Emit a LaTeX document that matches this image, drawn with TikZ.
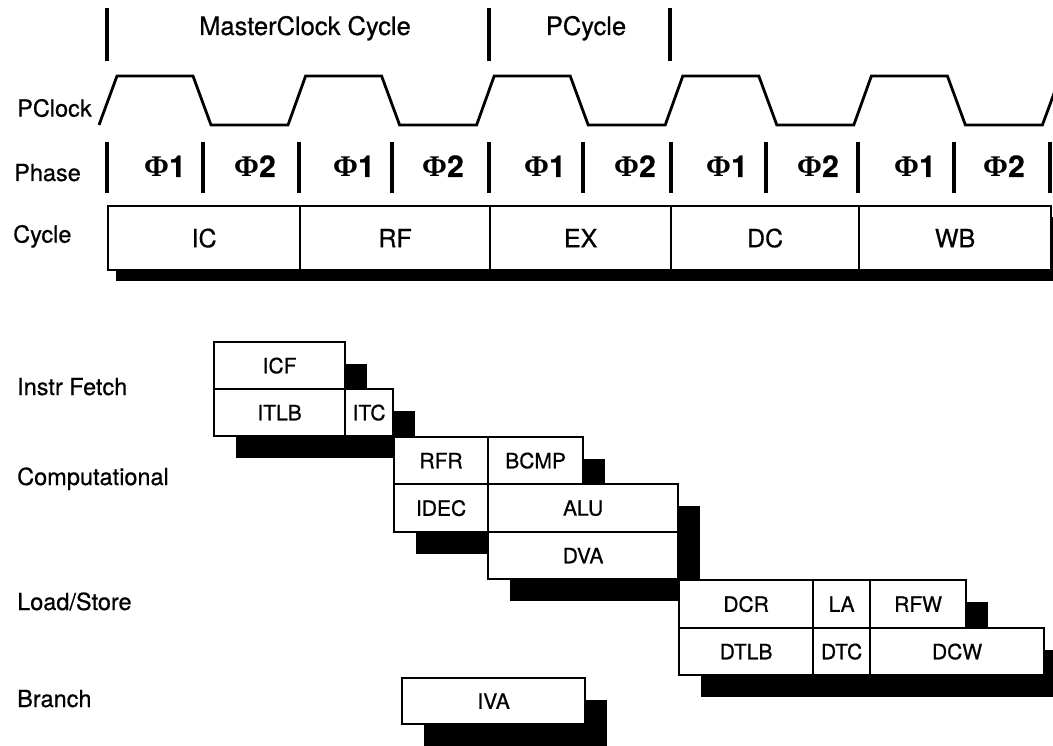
\documentclass[tikz,border=0pt]{standalone}
\usepackage{fontspec}
\setmainfont{TeX Gyre Heros}[FakeBold=0.6]
\newfontfamily\phifont{Liberation Serif}
\usetikzlibrary{shadows}
\tikzset{>=latex}
\tikzstyle{bar} = [line width = 3.2]
\tikzstyle{wave} = [line width = 2.8, line join = miter]
\tikzstyle{rowlabel} = [anchor = base west, inner sep = 0, font = \fontsize{23.5}{28}\selectfont]
\tikzstyle{toplabel} = [anchor = base, inner sep = 0, font = \fontsize{25.5}{30}\selectfont]
\tikzstyle{phaselabel} = [anchor = base, inner sep = 0, font = \bfseries\fontsize{30}{34}\selectfont]
\tikzstyle{cyclebox} = [%
					draw, line width = 2.2, fill = white,
					inner sep = 0, anchor = north west,
					font = \fontsize{25}{30}\selectfont,
					drop shadow = {shadow xshift = 8pt, shadow yshift = -11pt, fill = black, opacity = 1}
					]
\tikzstyle{stagebox} = [%
					draw, line width = 2.2, fill = white,
					inner sep = 0, anchor = north west,
					font = \fontsize{21}{25}\selectfont,
					drop shadow = {shadow xshift = 22pt, shadow yshift = -22pt, fill = black, opacity = 1}
					]

\begin{document}
\begin{tikzpicture}[x=1pt,y=-1pt]
    % picture frame (pixel grid, y down)
    \useasboundingbox (0,0) rectangle (1053,746);

    % Clock parameters
    \def\period  {188.6}              % one master clock cycle
    \def\hi      {76}                 % PClock high level
    \def\lo      {125}                % PClock low level

    % Master clock / pipeline cycle markers
    \foreach \x in {107,489,670} {
        \draw[bar] (\x,8) -- (\x,61);
    }
    \node[toplabel] (mclk) at (305,35) {MasterClock Cycle};
    \node[toplabel] (pcyc) at (586,35) {PCycle};

    % PClock waveform
    \node[rowlabel] (lpclock) at (17,116.6) {PClock};
    \draw[wave] (99,\lo)
        \foreach \x in {107,295.6,484.2,672.8,861.4} {
            -- ({\x+10},\hi) -- ({\x+86},\hi) -- ({\x+104},\lo) -- ({\x+181},\lo)
        } -- (1060.4,\hi);

    % Phases
    \node[rowlabel] (lphase) at (14,181) {Phase};
    \foreach \x in {107,203,299,392,489,583,671,766,858,954,1050} {
        \draw[bar] (\x,142) -- (\x,193);
    }
    \foreach \x/\p [count=\i] in {165/1,255/2,354/1,443/2,545/1,635/2,727/1,818/2,915/1,1004/2} {
        \node[phaselabel] (ph\i) at (\x,177) {{\phifont Φ}\p};
    }

    % Pipeline cycles
    \node[rowlabel] (lcycle) at (13,242.6) {Cycle};
    \foreach \nm/\xa/\xb in {IC/107/299,RF/299/489,EX/489/670,DC/670/858,WB/858/1050} {
        \node[cyclebox, minimum width = {(\xb-\xa)*1pt}, minimum height = 64pt] (\nm) at (\xa,205) {\nm};
    }

    % Stage labels
    \node[rowlabel] (lfetch)  at (17,395) {Instr Fetch};
    \node[rowlabel] (lcomp)   at (17,485) {Computational};
    \node[rowlabel] (lldst)   at (17,610) {Load/Store};
    \node[rowlabel] (lbranch) at (17,707) {Branch};

    % Stage boxes, drawn in order so later boxes cover earlier shadows
    \foreach \nm/\xa/\ya/\xb/\yb in {%
            ICF/213/341/344/388, ITLB/213/388/344/435, ITC/344/388/392/435,
            RFR/393/436/487/483, BCMP/487/436/582/483,
            IDEC/393/483/487/531, ALU/487/483/677/531, DVA/487/531/677/578,
            DCR/678/579/812/627, LA/812/579/869/627, RFW/869/579/965/627,
            DTLB/678/627/812/674, DTC/812/627/869/674, DCW/869/627/1043/674,
            IVA/401/677/584/723} {
        \node[stagebox, minimum width = {(\xb-\xa)*1pt}, minimum height = {(\yb-\ya)*1pt}] (\nm) at (\xa,\ya) {\nm};
    }

\end{tikzpicture}
\end{document}
